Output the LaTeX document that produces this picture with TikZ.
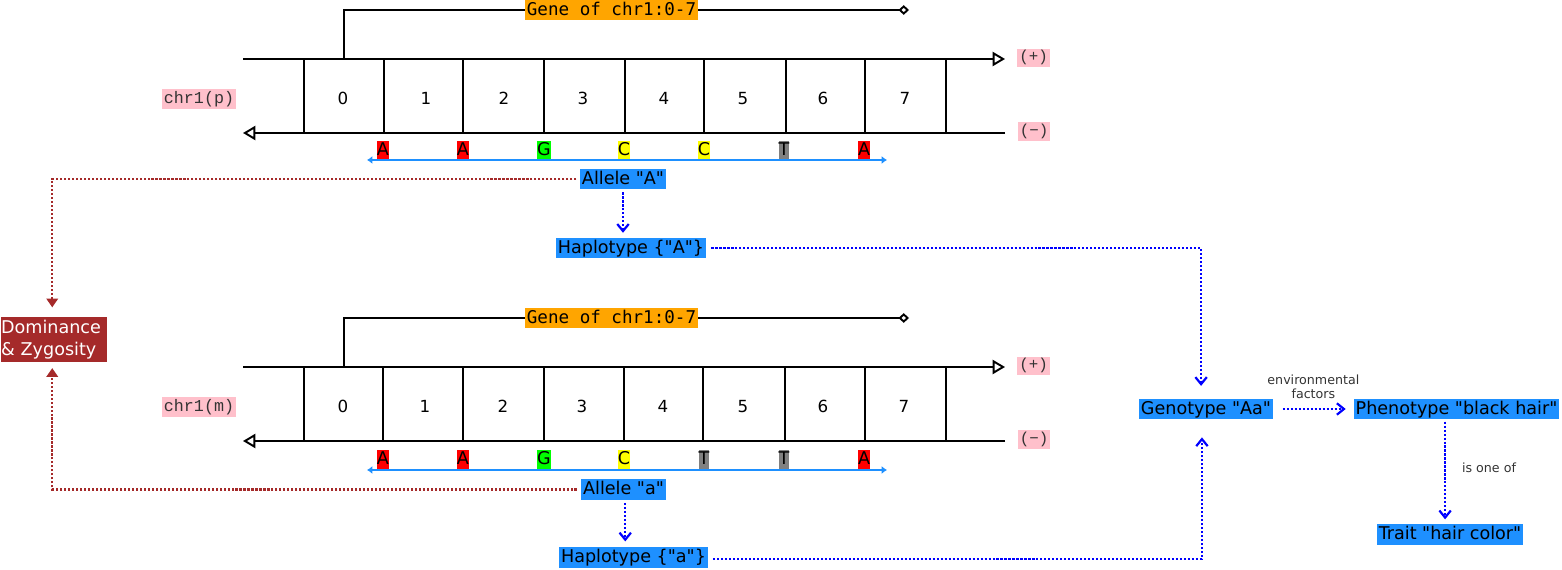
\documentclass[tikz,border=0pt]{standalone}
\usepackage{fontspec}
\setmainfont{DejaVu Sans}
\newfontfamily\dvs{DejaVu Sans}
\newfontfamily\gmono{DejaVu Sans Mono}
\newfontfamily\cmono{Liberation Mono}
\usetikzlibrary{arrows.meta}
\definecolor{dblue}{HTML}{1E90FF}
\definecolor{gorange}{HTML}{FFA500}
\definecolor{lpink}{HTML}{FFC0CB}
\definecolor{dbrown}{HTML}{A52A2A}
\definecolor{dgray}{HTML}{333333}
\definecolor{bred}{HTML}{FF0000}
\definecolor{bgreen}{HTML}{00FF00}
\definecolor{byellow}{HTML}{FFFF00}
\definecolor{bgray}{HTML}{808080}
\begin{document}
\begin{tikzpicture}[x=0.02cm,y=-0.02cm,
  lbl/.style={fill=dblue, font=\dvs\fontsize{10}{12}\selectfont, inner xsep=1pt, inner ysep=0.3pt, text height=8.6pt, text depth=2.7pt},
  genelbl/.style={fill=gorange, font=\gmono\fontsize{10}{12}\selectfont, inner xsep=1pt, inner ysep=0pt, text height=8.5pt, text depth=2.8pt},
  chrlbl/.style={fill=lpink, text=dgray, font=\cmono\fontsize{9.5}{11}\selectfont, inner xsep=1.2pt, inner ysep=0pt, text height=7.8pt, text depth=3.2pt},
  strandlbl/.style={fill=lpink, text=dgray, font=\cmono\fontsize{9}{10}\selectfont, inner xsep=1.2pt, inner ysep=0pt, text height=7.6pt, text depth=3.2pt},
  baselbl/.style={font=\dvs\fontsize{10}{12}\selectfont, inner sep=0pt, text height=8pt, text depth=2.8pt},
  numlbl/.style={font=\dvs\fontsize{9.5}{11}\selectfont, inner sep=0pt, anchor=base},
  smalllbl/.style={font=\dvs\fontsize{7.2}{8.4}\selectfont, text=dgray, inner sep=0pt, align=center},
  blk/.style={line width=1.1pt, black},
  strandarrow/.style={blk, -{Triangle[open, length=7pt, width=8pt]}},
  genearrow/.style={blk, -{Diamond[open, length=6pt, width=5.5pt]}},
  alleleline/.style={line width=1.1pt, dblue, {Latex[length=3pt,width=4.5pt]}-{Latex[length=3pt,width=4.5pt]}},
  bluedot/.style={blue, line width=1.25pt, dash pattern=on 1.2pt off 1.07pt, -{Straight Barb[length=4pt, width=6.5pt]}},
  browndot/.style={dbrown, line width=1.25pt, dash pattern=on 1.2pt off 1.07pt, -{Triangle[length=5pt, width=6.5pt]}},
]
\useasboundingbox (0,0) rectangle (1562,570);

% ---------- top chromosome (p) ----------
\coordinate (pgs) at (344,59);
\coordinate (pge) at (909,10);
\draw[genearrow] (pgs) |- (pge);
\node[genelbl] (pgene) at (611.5,10) {Gene of chr1:0-7};
\coordinate (pts) at (243,59);
\coordinate (pte) at (1005,59);
\coordinate (pbs) at (1005,133);
\coordinate (pbe) at (243,133);
\draw[strandarrow] (pts) -- (pte);
\draw[strandarrow] (pbs) -- (pbe);
\foreach \x in {304,384,463,544,625,704,786,865,946} \draw[blk] (\x,59) -- (\x,133);
\foreach \x/\n in {343/0,426/1,504/2,583/3,664/4,743/5,823/6,905/7}
  \node[numlbl] (p\n) at (\x,105) {\n};
\node[chrlbl] (chrp) at (199,99) {chr1(p)};
\node[strandlbl] (pplus) at (1033.5,58) {(+)};
\node[strandlbl] (pminus) at (1034,131.5) {(−)};
\foreach \x/\b/\c [count=\i] in {383/A/bred,463/A/bred,544/G/bgreen,624/C/byellow,704/C/byellow,784/T/bgray,864/A/bred}
  \node[baselbl, fill=\c] (pb\i) at (\x,150.5) {\b};
\coordinate (pal1) at (367,160);
\coordinate (pal2) at (887,160);
\draw[alleleline] (pal1) -- (pal2);
\node[lbl] (alA) at (623,179) {Allele "A"};
\node[lbl] (hapA) at (631,248) {Haplotype \{"A"\}};

% ---------- bottom chromosome (m) ----------
\coordinate (mgs) at (344,367);
\coordinate (mge) at (909,318);
\draw[genearrow] (mgs) |- (mge);
\node[genelbl] (mgene) at (611.5,318) {Gene of chr1:0-7};
\coordinate (mts) at (243,367);
\coordinate (mte) at (1005,367);
\coordinate (mbs) at (1005,441);
\coordinate (mbe) at (243,441);
\draw[strandarrow] (mts) -- (mte);
\draw[strandarrow] (mbs) -- (mbe);
\foreach \x in {304,383,463,544,624,703,785,865,946} \draw[blk] (\x,367) -- (\x,441);
\foreach \x/\n in {343/0,425/1,503/2,582/3,663/4,743/5,823/6,904/7}
  \node[numlbl] (m\n) at (\x,413) {\n};
\node[chrlbl] (chrm) at (199,407) {chr1(m)};
\node[strandlbl] (mplus) at (1033.5,366) {(+)};
\node[strandlbl] (mminus) at (1034,439.5) {(−)};
\foreach \x/\b/\c [count=\i] in {383/A/bred,463/A/bred,544/G/bgreen,624/C/byellow,704/T/bgray,784/T/bgray,864/A/bred}
  \node[baselbl, fill=\c] (mb\i) at (\x,459.5) {\b};
\coordinate (mal1) at (367,470);
\coordinate (mal2) at (887,470);
\draw[alleleline] (mal1) -- (mal2);
\node[lbl] (ala) at (623.5,489.5) {Allele "a"};
\node[lbl] (hapa) at (633.5,557.5) {Haplotype \{"a"\}};

% ---------- dominance ----------
\node[fill=dbrown, text=white, align=left, text width=60.2pt, font=\dvs\fontsize{10}{12.3}\selectfont, inner xsep=0.3pt, inner ysep=1.6pt] (dom) at (54,339.5) {Dominance\\\& Zygosity};

% ---------- right side ----------
\node[lbl] (geno) at (1206,409) {Genotype "Aa"};
\node[lbl] (pheno) at (1456.5,409) {Phenotype "black hair"};
\node[lbl] (trait) at (1450,534.5) {Trait "hair color"};

% ---------- helper coordinates ----------
\coordinate (domN) at ([xshift=-1pt]dom.north);
\coordinate (domS) at ([xshift=-1pt]dom.south);
\coordinate (alas) at ([xshift=1pt]ala.south);
\coordinate (genoN) at ([xshift=-2.8pt]geno.north);
\coordinate (genoS) at ([xshift=-2.3pt]geno.south);
\coordinate (hapae) at ([yshift=-0.8pt]hapa.east);
\coordinate (traitN) at ([xshift=-2.8pt]trait.north);

% ---------- connectors ----------
\draw[browndot, shorten <=2pt, shorten >=5.5pt] (alA.west) -| (domN);
\draw[browndot, shorten <=2.5pt, shorten >=3.5pt] (ala.west) -| (domS);
\draw[bluedot, shorten <=1.5pt, shorten >=2.5pt] (alA.south) -- (hapA.north -| alA.south);
\draw[bluedot, shorten <=1.5pt, shorten >=3pt] (alas) -- (hapa.north -| alas);
\draw[bluedot, shorten <=3pt, shorten >=7pt] (hapA.east) -| (genoN);
\draw[bluedot, shorten <=3pt, shorten >=10pt] (hapae) -| (genoS);
\draw[bluedot, shorten <=5.5pt, shorten >=4.5pt] (geno.east) -- (pheno.west)
  node[smalllbl, midway, above=5pt] (env) {environmental\\factors};
\draw[bluedot, shorten <=1pt, shorten >=2.5pt] (pheno.south -| traitN) -- (traitN);
\node[smalllbl] (isone) at (1489,468) {is one of};
\end{tikzpicture}
\end{document}
